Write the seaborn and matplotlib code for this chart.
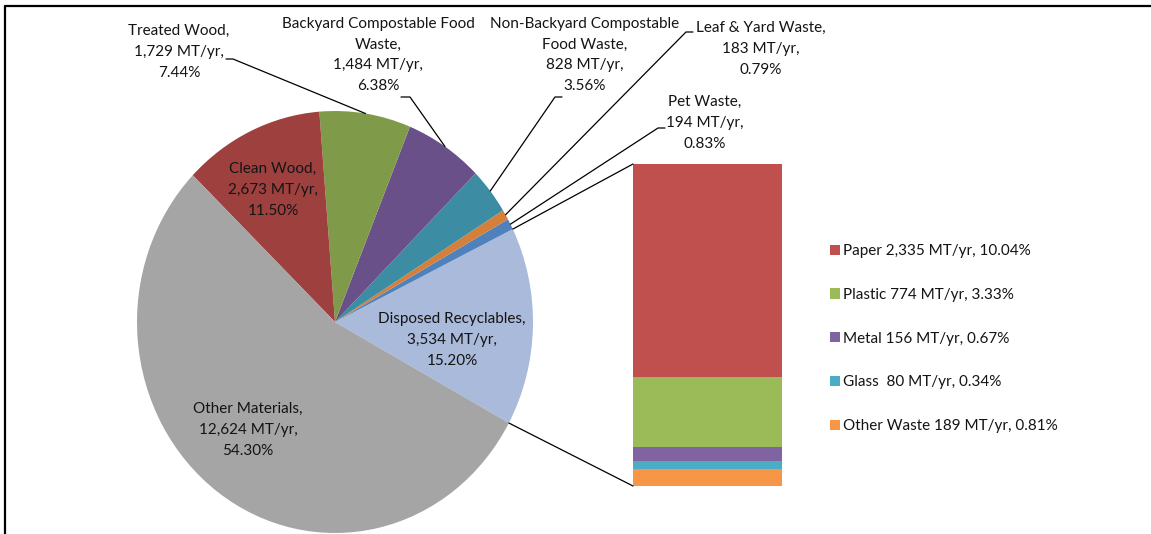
import matplotlib
matplotlib.use("Agg")
from matplotlib import pyplot as plt
from matplotlib.lines import Line2D
from matplotlib.patches import Patch
import numpy as np
import seaborn as sns

# pie slices, counter-clockwise starting from the aggregated slice
pie_names = ["Disposed Recyclables", "Pet Waste", "Leaf & Yard Waste",
             "Non-Backyard Compostable Food Waste", "Backyard Compostable Food Waste",
             "Treated Wood", "Clean Wood", "Other Materials"]
pie_values = [3534, 194, 183, 828, 1484, 1729, 2673, 12624]
pie_colors = ["#A9BADA", "#4F81BD", "#D4803A", "#3C8DA3", "#6A5088",
              "#7F9B4A", "#9E413E", "#A5A5A5"]

# breakdown of disposed recyclables, bottom to top
bar_names = ["Other Waste", "Glass", "Metal", "Plastic", "Paper"]
bar_values = [189, 80, 156, 774, 2335]
bar_colors = ["#F79646", "#4BACC6", "#8064A2", "#9BBB59", "#C0504D"]
legend_labels = ["Paper 2,335 MT/yr, 10.04%", "Plastic 774 MT/yr, 3.33%",
                 "Metal 156 MT/yr, 0.67%", "Glass  80 MT/yr, 0.34%",
                 "Other Waste 189 MT/yr, 0.81%"]

W, H = 1151, 534
sns.set_theme(style="white")
plt.rcParams["font.family"] = ["Lato", "DejaVu Sans"]
txt_color = "#141414"
fs = 11

fig = plt.figure(figsize=(W / 100, H / 100), dpi=100)


def fpos(x, y):
    return x / W, 1 - y / H


def box(x0, y0, x1, y1):
    return [x0 / W, 1 - y1 / H, (x1 - x0) / W, (y1 - y0) / H]


# pie (slightly stretched, as in the source image)
ax = fig.add_axes(box(137, 111, 533, 533))
wedges, _ = ax.pie(pie_values, colors=pie_colors, startangle=-28.6,
                   counterclock=True, radius=1,
                   wedgeprops=dict(linewidth=0))
ax.set_aspect("auto")
ax.set_xlim(-1, 1)
ax.set_ylim(-1, 1)
ax.axis("off")

# stacked bar
bax = fig.add_axes(box(633, 164, 782, 486))
cum = np.cumsum(bar_values)
for i in range(len(bar_values) - 1, -1, -1):
    sns.barplot(x=[0], y=[cum[i]], color=bar_colors[i], width=1,
                saturation=1, ax=bax, linewidth=0)
bax.set_xlim(-0.5, 0.5)
bax.set_ylim(0, cum[-1])
bax.axis("off")

to_fig = fig.transFigure.inverted()


def edge_pt(theta_deg):
    t = np.deg2rad(theta_deg)
    d = ax.transData.transform((np.cos(t), np.sin(t)))
    return to_fig.transform(d)


def leader(pts_px, theta):
    xs, ys = [], []
    for p in pts_px:
        fx, fy = fpos(*p)
        xs.append(fx)
        ys.append(fy)
    ex, ey = edge_pt(theta)
    xs.append(ex)
    ys.append(ey)
    fig.add_artist(Line2D(xs, ys, color="black", lw=0.9))


def mid(w):
    return (w.theta1 + w.theta2) / 2


# outside labels: (text, center x, middle y, slice index, leader start points)
outside = [
    ("Treated Wood,\n1,729 MT/yr,\n7.44%", 179, 52, 5, [(226, 59), (233, 59)]),
    ("Backyard Compostable Food\nWaste,\n1,484 MT/yr,\n6.38%", 378, 55, 4, [(401, 97), (410, 97)]),
    ("Non-Backyard Compostable\nFood Waste,\n828 MT/yr,\n3.56%", 585, 55, 3, [(562, 97), (555, 97)]),
    ("Leaf & Yard Waste,\n183 MT/yr,\n0.79%", 761, 49, 2, [(693, 32), (686, 32)]),
    ("Pet Waste,\n194 MT/yr,\n0.83%", 705, 123, 1, [(665, 128), (658, 128)]),
]
for text, x, y, idx, pts in outside:
    fx, fy = fpos(x, y)
    fig.text(fx, fy, text, ha="center", va="center", fontsize=fs,
             color=txt_color, linespacing=1.62)
    leader(pts, mid(wedges[idx]))

inside = [
    ("Clean Wood,\n2,673 MT/yr,\n11.50%", 273, 190),
    ("Disposed Recyclables,\n3,534 MT/yr,\n15.20%", 452, 340),
    ("Other Materials,\n12,624 MT/yr,\n54.30%", 248, 430),
]
for text, x, y in inside:
    fx, fy = fpos(x, y)
    fig.text(fx, fy, text, ha="center", va="center", fontsize=fs,
             color=txt_color, linespacing=1.62)

# connectors from the aggregated slice to the bar
top = to_fig.transform(bax.transData.transform((-0.5, cum[-1])))
bot = to_fig.transform(bax.transData.transform((-0.5, 0)))
e1 = edge_pt(wedges[0].theta2)
e0 = edge_pt(wedges[0].theta1)
fig.add_artist(Line2D([e1[0], top[0]], [e1[1], top[1]], color="black", lw=0.9))
fig.add_artist(Line2D([e0[0], bot[0]], [e0[1], bot[1]], color="black", lw=0.9))

# legend
handles = [Patch(facecolor=bar_colors[i], edgecolor="none") for i in range(4, -1, -1)]
fig.legend(handles, legend_labels, loc="upper left",
           bbox_to_anchor=fpos(824, 238), frameon=False, fontsize=fs,
           handlelength=0.65, handleheight=0.65, handletextpad=0.2,
           labelspacing=1.95, labelcolor=txt_color, borderaxespad=0)

# chart frame (top and left edges)
fx0, fy0 = fpos(5, 6)
fig.add_artist(Line2D([fx0, 1], [fy0, fy0], color="black", lw=1.6))
fig.add_artist(Line2D([fx0, fx0], [fy0, 0], color="black", lw=1.6))

fig.savefig("out.png", dpi=100)
